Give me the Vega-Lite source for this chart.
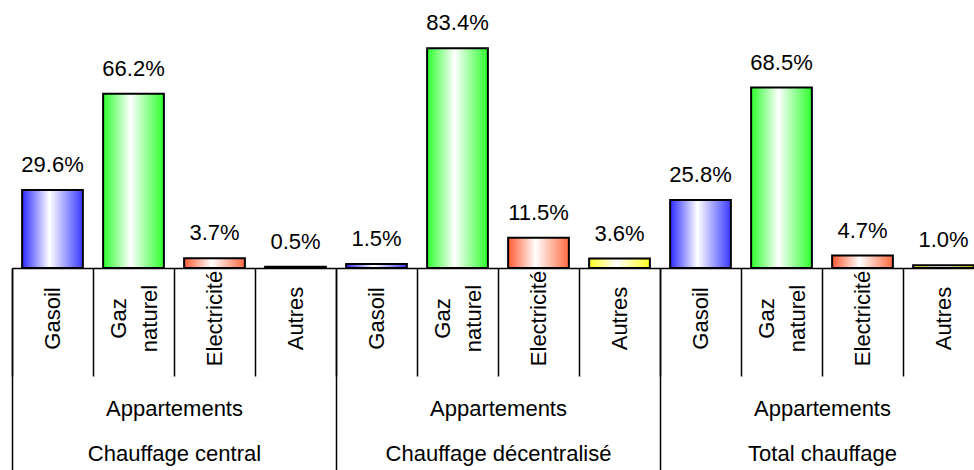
{
  "$schema": "https://vega.github.io/schema/vega-lite/v6.json",
  "width": 972,
  "height": 268,
  "autosize": {"type": "none"},
  "padding": {"left": 12, "top": 0, "right": 0, "bottom": 202},
  "background": "white",
  "config": {"view": {"stroke": null}},
  "data": {
    "values": [
      {"id": "1a|Gasoil", "cat": "Gasoil", "grp": "Appartements|Chauffage central", "value": 0.296},
      {"id": "1b|Gaz naturel", "cat": "Gaz naturel", "grp": "Appartements|Chauffage central", "value": 0.662},
      {"id": "1c|Electricité", "cat": "Electricité", "grp": "Appartements|Chauffage central", "value": 0.037},
      {"id": "1d|Autres", "cat": "Autres", "grp": "Appartements|Chauffage central", "value": 0.005},
      {"id": "2a|Gasoil", "cat": "Gasoil", "grp": "Appartements|Chauffage décentralisé", "value": 0.015},
      {"id": "2b|Gaz naturel", "cat": "Gaz naturel", "grp": "Appartements|Chauffage décentralisé", "value": 0.834},
      {"id": "2c|Electricité", "cat": "Electricité", "grp": "Appartements|Chauffage décentralisé", "value": 0.115},
      {"id": "2d|Autres", "cat": "Autres", "grp": "Appartements|Chauffage décentralisé", "value": 0.036},
      {"id": "3a|Gasoil", "cat": "Gasoil", "grp": "Appartements|Total chauffage", "value": 0.258},
      {"id": "3b|Gaz naturel", "cat": "Gaz naturel", "grp": "Appartements|Total chauffage", "value": 0.685},
      {"id": "3c|Electricité", "cat": "Electricité", "grp": "Appartements|Total chauffage", "value": 0.047},
      {"id": "3d|Autres", "cat": "Autres", "grp": "Appartements|Total chauffage", "value": 0.010}
    ]
  },
  "layer": [
    {
      "encoding": {
        "x": {
          "field": "id", "type": "nominal", "sort": "ascending",
          "scale": {"paddingInner": 0, "paddingOuter": 0},
          "axis": {
            "orient": "bottom", "title": null,
            "domainColor": "black", "domainWidth": 1.5,
            "tickColor": "black", "tickWidth": 1.5, "tickSize": 108, "tickBand": "extent",
            "labelAngle": 270, "labelAlign": "center", "labelBaseline": "middle",
            "labelFont": "Liberation Sans", "labelFontSize": 22, "labelColor": "black",
            "labelPadding": -58, "labelLineHeight": 31, "labelLimit": 400,
            "labelOffset": {"condition": {"test": "isValid(datum.value) && indexof(datum.value, 'Gaz') >= 0", "value": -15}, "value": 0},
            "labelOverlap": false, "labelFlush": false, "labelBound": false,
            "labelExpr": "isValid(datum.value) ? split(split(datum.value, '|')[1], ' ') : ''"
          }
        },
        "y": {
          "field": "value", "type": "quantitative",
          "scale": {"domain": [0, 1.0175], "nice": false, "zero": true},
          "axis": null
        }
      },
      "layer": [
        {
          "transform": [{"filter": "datum.cat === 'Gasoil'"}],
          "mark": {"type": "bar", "width": {"band": 0.75}, "stroke": "black", "strokeWidth": 2,
            "fill": {"gradient": "linear", "x1": 0, "y1": 0, "x2": 1, "y2": 0,
              "stops": [{"offset": 0, "color": "#2b2bff"}, {"offset": 0.45, "color": "#ffffff"}, {"offset": 1, "color": "#3a3aff"}]}}
        },
        {
          "transform": [{"filter": "datum.cat === 'Gaz naturel'"}],
          "mark": {"type": "bar", "width": {"band": 0.75}, "stroke": "black", "strokeWidth": 2,
            "fill": {"gradient": "linear", "x1": 0, "y1": 0, "x2": 1, "y2": 0,
              "stops": [{"offset": 0, "color": "#2bff2b"}, {"offset": 0.45, "color": "#ffffff"}, {"offset": 1, "color": "#2bff2b"}]}}
        },
        {
          "transform": [{"filter": "datum.cat === 'Electricité'"}],
          "mark": {"type": "bar", "width": {"band": 0.75}, "stroke": "black", "strokeWidth": 2,
            "fill": {"gradient": "linear", "x1": 0, "y1": 0, "x2": 1, "y2": 0,
              "stops": [{"offset": 0, "color": "#ff5a30"}, {"offset": 0.45, "color": "#ffffff"}, {"offset": 1, "color": "#ff6a40"}]}}
        },
        {
          "transform": [{"filter": "datum.cat === 'Autres'"}],
          "mark": {"type": "bar", "width": {"band": 0.75}, "stroke": "black", "strokeWidth": 2,
            "fill": {"gradient": "linear", "x1": 0, "y1": 0, "x2": 1, "y2": 0,
              "stops": [{"offset": 0, "color": "#ffff20"}, {"offset": 0.45, "color": "#ffffff"}, {"offset": 1, "color": "#ffff20"}]}}
        },
        {
          "mark": {"type": "text", "baseline": "alphabetic", "dy": -18, "font": "Liberation Sans", "fontSize": 22, "color": "black"},
          "encoding": {"text": {"field": "value", "type": "quantitative", "format": ".1%"}}
        }
      ]
    },
    {
      "mark": {"type": "rect", "opacity": 0},
      "encoding": {
        "x": {
          "field": "grp", "type": "nominal", "sort": null,
          "scale": {"paddingInner": 0, "paddingOuter": 0},
          "axis": {
            "orient": "bottom", "title": null, "domain": false,
            "tickColor": "black", "tickWidth": 1.5, "tickSize": 205, "tickBand": "extent",
            "labelAngle": 0, "labelAlign": "center", "labelBaseline": "top",
            "labelFont": "Liberation Sans", "labelFontSize": 22, "labelColor": "black",
            "labelPadding": -75, "labelLineHeight": 45, "labelLimit": 400,
            "labelOverlap": false, "labelFlush": false, "labelBound": false,
            "labelExpr": "isValid(datum.value) ? split(datum.value, '|') : ''"
          }
        }
      }
    }
  ],
  "resolve": {"scale": {"x": "independent"}, "axis": {"x": "independent"}}
}
